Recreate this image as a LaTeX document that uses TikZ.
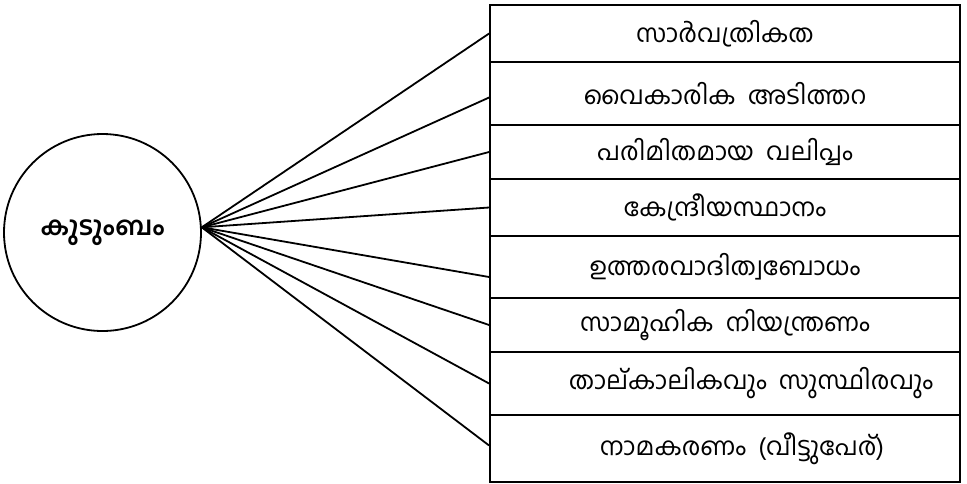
\documentclass[tikz,border=0pt]{standalone}
\usepackage{fontspec}
\newfontfamily\mal[Script=Malayalam]{Hind Kochi}
\usetikzlibrary{positioning}

\begin{document}
\begin{tikzpicture}[x=1pt,y=-1pt,
line width=1.8pt,
family/.style={circle, draw, minimum size=197pt, inner sep=0pt, font=\mal\bfseries\fontsize{26}{28}\selectfont},
row/.style={rectangle, draw, minimum width=470pt, inner sep=0pt, font=\mal\fontsize{25}{27}\selectfont},
]
\useasboundingbox (0,0) rectangle (967,483);
%Nodes
\node[family] (fam) at (102.5,232.5) {കുടുംബം};
\node[row, minimum height=57pt] (r1) at (725,33.5)  {സാർവത്രികത};
\node[row, minimum height=63pt] (r2) at (725,93.5)  {വൈകാരിക\ \ അടിത്തറ};
\node[row, minimum height=54pt] (r3) at (725,152)   {പരിമിതമായ\ \ വലിപ്പം};
\node[row, minimum height=57pt] (r4) at (725,207.5) {കേന്ദ്രീയസ്ഥാനം};
\node[row, minimum height=62pt] (r5) at (725,267)   {ഉത്തരവാദിത്വബോധം};
\node[row, minimum height=54pt] (r6) at (725,325)   {സാമൂഹിക\ \ നിയന്ത്രണം};
\node[row, minimum height=63pt] (r7) at (725,383.5) {\hspace*{52pt}താല്കാലികവും\ \ സുസ്ഥിരവും};
\node[row, minimum height=67pt] (r8) at (725,448.5) {\hspace*{34pt}നാമകരണം\ \ (വീട്ടുപേര്)};

%Lines
\draw (fam.3) -- (r1.west);
\draw (fam.3) -- ([yshift=-4pt]r2.west);
\draw (fam.3) -- (r3.west);
\draw (fam.3) -- (r4.west);
\draw (fam.3) -- ([yshift=-10pt]r5.west);
\draw (fam.3) -- (r6.west);
\draw (fam.3) -- (r7.west);
\draw (fam.3) -- ([yshift=3pt]r8.west);
\end{tikzpicture}
\end{document}
